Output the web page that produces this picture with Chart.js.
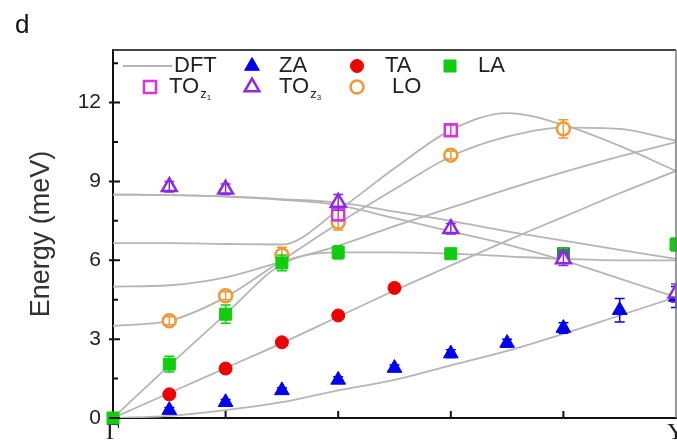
<!DOCTYPE html>
<html>
<head>
<meta charset="utf-8">
<script src="https://cdn.jsdelivr.net/npm/chart.js"></script>
<style>
  html, body { margin: 0; padding: 0; background: #fff; }
</style>
</head>
<body>
<canvas id="phononChart" width="677" height="446"></canvas>
<script>
  // wave vector along Gamma -> Y, 0 = Gamma, 5 = Y
  const qLabels = ['Γ', 'Y'];
  const yTicks = [0, 3, 6, 9, 12];

  // DFT dispersion curves (meV)
  const dftQ = [0, 0.5, 1, 1.5, 2, 2.5, 3, 3.5, 4, 4.5, 5];
  const dftZA = [0, 0.08, 0.3, 0.6, 1.05, 1.45, 2.0, 2.55, 3.2, 3.9, 4.6];
  const dftTA = [0, 0.95, 1.9, 2.85, 3.85, 4.85, 5.8, 6.75, 7.65, 8.55, 9.4];
  const dftLA = [0, 2.0, 3.95, 5.85, 6.3, 6.3, 6.25, 6.15, 6.05, 6.0, 6.0];
  const dftLO = [3.5, 3.7, 4.6, 6.0, 7.4, 8.7, 9.95, 10.7, 11.05, 11.0, 10.55];
  const dftOpt1 = [5.0, 5.05, 5.35, 5.95, 6.55, 7.3, 8.0, 8.7, 9.35, 9.95, 10.5];
  const dftOpt2 = [6.65, 6.65, 6.62, 6.6, 7.9, 9.5, 10.95, 11.6, 11.15, 10.35, 9.4];
  const dftOpt3 = [8.5, 8.48, 8.42, 8.3, 8.1, 7.6, 7.1, 6.6, 6.0, 5.3, 4.6];
  const dftOpt4 = [8.5, 8.48, 8.43, 8.33, 8.2, 7.85, 7.5, 7.1, 6.75, 6.4, 6.05];

  // measured modes: position, energy, error
  const zaQ = [0.5, 1, 1.5, 2, 2.5, 3, 3.5, 4, 4.5, 5];
  const zaE = [0.3, 0.6, 1.05, 1.45, 1.9, 2.45, 2.85, 3.42, 4.1, 4.6];
  const zaErr = [0.1, 0.1, 0.1, 0.12, 0.12, 0.15, 0.15, 0.2, 0.45, 0.4];
  const taQ = [0.5, 1, 1.5, 2, 2.5];
  const taE = [0.9, 1.88, 2.88, 3.9, 4.95];
  const taErr = [0.1, 0.1, 0.1, 0.12, 0.15];
  const laQ = [0, 0.5, 1, 1.5, 2, 3, 4, 5];
  const laE = [0, 2.05, 3.95, 5.9, 6.3, 6.25, 6.25, 6.6];
  const laErr = [0, 0.3, 0.35, 0.3, 0.25, 0.15, 0.2, 0.25];
  const to1Q = [2, 3];
  const to1E = [7.75, 10.95];
  const to1Err = [0.25, 0.2];
  const to3Q = [0.5, 1, 2, 3, 4, 5];
  const to3E = [8.8, 8.7, 8.2, 7.2, 6.05, 4.75];
  const to3Err = [0.2, 0.2, 0.3, 0.2, 0.25, 0.35];
  const loQ = [0.5, 1, 1.5, 2, 3, 4];
  const loE = [3.7, 4.65, 6.2, 7.45, 10.0, 11.0];
  const loErr = [0.15, 0.15, 0.3, 0.3, 0.15, 0.35];

  const toXY = (xs, ys) => xs.map((x, i) => ({ x: x, y: ys[i] }));

  const dftCurves = [dftZA, dftTA, dftLA, dftLO, dftOpt1, dftOpt2, dftOpt3, dftOpt4];
  const dftSets = dftCurves.map(c => ({
    data: toXY(dftQ, c),
    showLine: true,
    borderColor: '#b5b5b5',
    borderWidth: 1.8,
    pointRadius: 0,
    cubicInterpolationMode: 'monotone',
    order: 2
  }));

  function marks(label, xs, ys, errs, style, color, open, r) {
    return {
      label: label,
      data: toXY(xs, ys),
      errors: errs,
      pointStyle: style,
      pointRadius: r,
      pointBorderColor: color,
      borderColor: color,
      pointBackgroundColor: open ? '#fff' : color,
      pointBorderWidth: open ? 2.5 : 1,
      showLine: false,
      clip: false,
      order: 1
    };
  }

  const pointSets = [
    marks('TOz3', to3Q, to3E, to3Err, 'triangle', '#8a2be2', true, 8.5),
    marks('TOz1', to1Q, to1E, to1Err, 'rect', '#dd33dd', true, 8.5),
    marks('ZA', zaQ, zaE, zaErr, 'triangle', '#0000ee', false, 8.5),
    marks('TA', taQ, taE, taErr, 'circle', '#ee0000', false, 6.5),
    marks('LA', laQ, laE, laErr, 'rect', '#11cc11', false, 8.5),
    marks('LO', loQ, loE, loErr, 'circle', '#ee9933', true, 6.5)
  ];
  // the LA square sitting on the TOz3 triangle at q = 4 looks darker
  pointSets[4].pointBackgroundColor = laQ.map(q => q === 4 ? '#2e7d50' : '#11cc11');
  pointSets[4].pointBorderColor = pointSets[4].pointBackgroundColor;

  const errorBars = {
    id: 'errorBars',
    afterDatasetDraw(chart, args) {
      const ds = chart.data.datasets[args.index];
      if (!ds.errors) return;
      const ctx = chart.ctx, y = chart.scales.y;
      ctx.save();
      ctx.strokeStyle = ds.borderColor;
      ctx.lineWidth = 1.5;
      args.meta.data.forEach((pt, i) => {
        const e = ds.errors[i];
        if (!e) return;
        const v = ds.data[i].y;
        const y1 = y.getPixelForValue(v - e), y2 = y.getPixelForValue(v + e);
        ctx.beginPath();
        ctx.moveTo(pt.x, y1); ctx.lineTo(pt.x, y2);
        ctx.moveTo(pt.x - 5, y1); ctx.lineTo(pt.x + 5, y1);
        ctx.moveTo(pt.x - 5, y2); ctx.lineTo(pt.x + 5, y2);
        ctx.stroke();
      });
      ctx.restore();
    }
  };

  function drawMarker(ctx, style, color, open, x, y, r) {
    ctx.fillStyle = open ? '#fff' : color;
    ctx.strokeStyle = color;
    ctx.lineWidth = open ? 2.5 : 1;
    Chart.helpers.drawPoint(ctx, { pointStyle: style, radius: r, rotation: 0, borderWidth: ctx.lineWidth }, x, y);
  }

  function legendText(ctx, x, y, main, sub, subsub) {
    ctx.fillStyle = '#222';
    ctx.textBaseline = 'middle';
    ctx.font = '22px "Liberation Sans"';
    ctx.fillText(main, x, y);
    if (!sub) return;
    const w = ctx.measureText(main).width;
    ctx.font = '13px "Liberation Sans"';
    ctx.fillText(sub, x + w + 1, y + 7);
    const w2 = ctx.measureText(sub).width;
    ctx.font = '8px "Liberation Sans"';
    ctx.fillText(subsub, x + w + 1 + w2, y + 11);
  }

  const frameAndLegend = {
    id: 'frameAndLegend',
    afterDraw(chart) {
      const ctx = chart.ctx, a = chart.chartArea;
      const x = chart.scales.x, y = chart.scales.y;
      ctx.save();
      // top and right frame
      ctx.strokeStyle = '#444'; ctx.lineWidth = 2;
      ctx.beginPath(); ctx.moveTo(a.left, a.top); ctx.lineTo(a.right, a.top); ctx.stroke();
      ctx.strokeStyle = '#777'; ctx.lineWidth = 1.5;
      ctx.beginPath(); ctx.moveTo(a.right, a.top); ctx.lineTo(a.right, a.bottom); ctx.stroke();
      // inward ticks
      ctx.strokeStyle = '#111'; ctx.lineWidth = 2;
      ctx.beginPath();
      yTicks.forEach(v => {
        const py = y.getPixelForValue(v);
        ctx.moveTo(a.left - 4, py); ctx.lineTo(a.left + 7, py);
        const pm = y.getPixelForValue(v + 1.5);
        ctx.moveTo(a.left, pm); ctx.lineTo(a.left + 5, pm);
      });
      [1, 2, 3, 4].forEach(v => {
        const px = x.getPixelForValue(v);
        ctx.moveTo(px, a.bottom); ctx.lineTo(px, a.bottom - 7);
      });
      ctx.stroke();

      // panel letter
      ctx.fillStyle = '#111';
      ctx.textBaseline = 'alphabetic';
      ctx.font = '26px "Liberation Sans"';
      ctx.fillText('d', 15, 33);

      // legend, two rows
      const r1 = 66, r2 = 87;
      ctx.strokeStyle = '#b5b5b5'; ctx.lineWidth = 1.8;
      ctx.beginPath(); ctx.moveTo(123, r1); ctx.lineTo(172, r1); ctx.stroke();
      legendText(ctx, 174, r1, 'DFT');
      drawMarker(ctx, 'triangle', '#0000ee', false, 252, r1, 8.5);
      legendText(ctx, 279, r1, 'ZA');
      drawMarker(ctx, 'circle', '#ee0000', false, 357, r1, 6.5);
      legendText(ctx, 385, r1, 'TA');
      drawMarker(ctx, 'rect', '#11cc11', false, 450, r1, 8.5);
      legendText(ctx, 478, r1, 'LA');

      drawMarker(ctx, 'rect', '#dd33dd', true, 150, r2, 8.5);
      legendText(ctx, 169, r2, 'TO', 'z', '1');
      drawMarker(ctx, 'triangle', '#8a2be2', true, 252, r2, 8.5);
      legendText(ctx, 279, r2, 'TO', 'z', '3');
      drawMarker(ctx, 'circle', '#ee9933', true, 357, r2, 6.5);
      legendText(ctx, 392, r2, 'LO');
      ctx.restore();
    }
  };

  // keep the plot box where it is in the figure: no extra room for end labels
  function noPad(s) {
    s.paddingLeft = 0; s.paddingRight = 0; s.paddingTop = 0; s.paddingBottom = 0;
  }

  new Chart(document.getElementById('phononChart').getContext('2d'), {
    type: 'scatter',
    data: { datasets: pointSets.concat(dftSets) },
    options: {
      responsive: false,
      animation: false,
      layout: { padding: { left: 0, top: 50, right: 1, bottom: 0 }, autoPadding: false },
      plugins: { legend: { display: false }, tooltip: { enabled: false } },
      scales: {
        x: {
          type: 'linear', min: 0, max: 5,
          afterFit(s) { s.height = 28; noPad(s); },
          grid: { drawOnChartArea: false, drawTicks: false },
          border: { display: true, color: '#111', width: 2 },
          ticks: {
            stepSize: 1, autoSkip: false, maxRotation: 0, padding: 0, color: '#222',
            font: { family: 'Liberation Serif', size: 24 },
            callback: v => v === 0 ? qLabels[0] : (v === 5 ? qLabels[1] : '')
          }
        },
        y: {
          min: 0, max: 14,
          afterFit(s) { s.width = 113; noPad(s); },
          grid: { drawOnChartArea: false, drawTicks: false },
          border: { display: true, color: '#111', width: 2 },
          ticks: {
            stepSize: 3, includeBounds: false, padding: 12, color: '#222',
            font: { family: 'Liberation Sans', size: 21 }
          },
          title: {
            display: true, text: 'Energy (meV)', color: '#333',
            font: { family: 'Liberation Sans', size: 27, weight: 'normal' },
            padding: { top: 25, bottom: 0 }
          }
        }
      }
    },
    plugins: [errorBars, frameAndLegend]
  });
</script>
</body>
</html>
